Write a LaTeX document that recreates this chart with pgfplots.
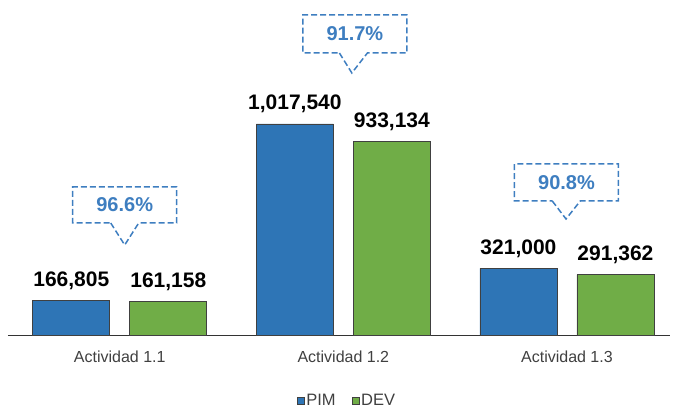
\documentclass[border=0pt]{standalone}
\usepackage{pgfplots}
\pgfplotsset{compat=1.18}
\usepackage{fontspec}
\setmainfont{Liberation Sans}
\usetikzlibrary{shapes.callouts}

\definecolor{pim}{HTML}{2E75B6}
\definecolor{dev}{HTML}{70AD47}
\definecolor{callout}{HTML}{3E7EC0}
\definecolor{txtgray}{HTML}{404040}

\begin{document}
\begin{tikzpicture}
  \useasboundingbox (-8pt,-74pt) rectangle (665pt,335pt);
  \begin{axis}[
    at={(0,0)}, anchor=south west,
    scale only axis,
    width=662pt, height=335pt,
    xmin=-0.5, xmax=2.461,
    ymin=0, ymax=1615000,
    clip=false,
    axis x line*=bottom,
    axis y line=none,
    x axis line style={black!80, line width=0.8pt},
    xtick={0,1,2},
    xticklabels={Actividad 1.1, Actividad 1.2, Actividad 1.3},
    major tick length=0pt,
    xticklabel style={anchor=base, yshift=-28pt, inner sep=0pt,
      font=\fontsize{16}{19}\selectfont, text=txtgray},
    ybar=20pt,
    bar width=77pt,
    nodes near coords={\pgfmathprintnumber[fixed,precision=0,1000 sep={,},assume math mode=true]{\pgfplotspointmeta}},
    every node near coord/.append style={anchor=base, yshift=14pt, inner sep=0pt,
      font=\fontsize{21}{24}\selectfont\bfseries, text=black},
    legend columns=2,
    legend style={draw=none, at={(axis description cs:0.512,-0.197)}, anchor=center,
      font=\fontsize{16.5}{19}\selectfont, text=txtgray,
      /tikz/every even column/.append style={column sep=14pt}},
    legend image code/.code={\draw[#1, line width=0.6pt] (0pt,-3.5pt) rectangle (7pt,3.5pt);},
  ]
    \addplot[fill=pim, draw=black!75, line width=0.6pt]
      coordinates {(0,166805) (1,1017540) (2,321000)};
    \addplot[fill=dev, draw=black!75, line width=0.6pt]
      coordinates {(0,161158) (1,933134) (2,291362)};
    \legend{PIM, DEV}

    \tikzset{pct/.style={rectangle callout, draw=callout, line width=1.5pt,
      dash pattern=on 6pt off 3pt, minimum width=104pt, inner sep=0pt,
      callout pointer width=28pt, text=callout,
      font=\fontsize{20}{24}\selectfont\bfseries}}
    \node[pct, minimum height=36pt,
      callout absolute pointer={(axis cs:0.022,433881)}] at (axis cs:0.022,626717) {96.6\%};
    \node[pct, minimum height=38pt,
      callout absolute pointer={(axis cs:1.038,1263076)}] at (axis cs:1.0515,1451091) {91.7\%};
    \node[pct, minimum height=37pt,
      callout absolute pointer={(axis cs:1.996,559224)}] at (axis cs:1.998,735187) {90.8\%};
  \end{axis}
\end{tikzpicture}
\end{document}
